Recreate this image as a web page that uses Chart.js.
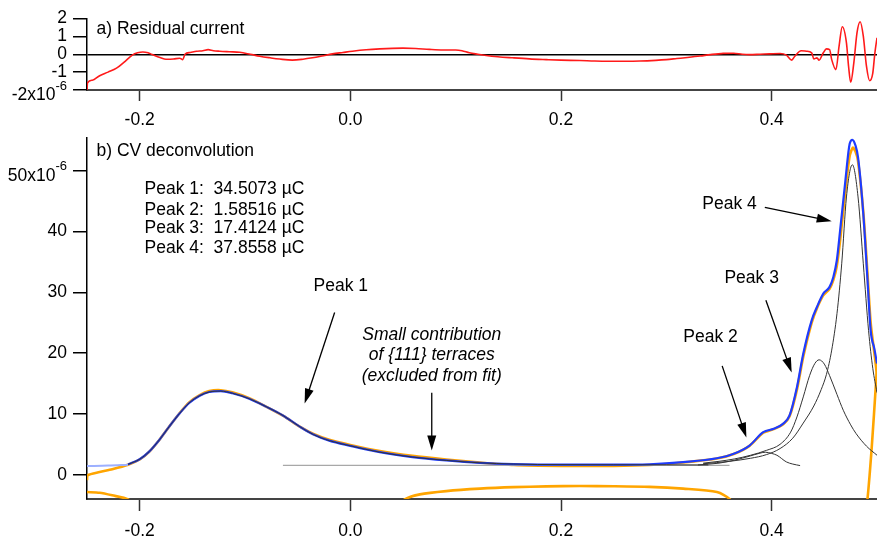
<!DOCTYPE html>
<html>
<head>
<meta charset="utf-8">
<script src="https://cdn.jsdelivr.net/npm/chart.js@4.4.1/dist/chart.umd.min.js"></script>
<style>
  html, body { margin: 0; padding: 0; background: #fff; }
  #wrap { position: relative; width: 877px; height: 536px; overflow: hidden; }
  canvas { position: absolute; left: 0; }
  #residual { top: 0; }
  #cv { top: 130px; }
</style>
</head>
<body>
<div id="wrap">
  <canvas id="residual" width="877" height="130"></canvas>
  <canvas id="cv" width="877" height="406"></canvas>
</div>
<script>
// tick values
const xTicks = [-0.2, 0.0, 0.2, 0.4];
const residualTicks = [-2, -1, 0, 1, 2];
const cvTicks = [0, 10, 20, 30, 40, 50];

// a) residual current (x10^-6)
const residualV = [-0.25, -0.2495, -0.245, -0.238, -0.23, -0.222, -0.215, -0.207, -0.202, -0.197, -0.192, -0.188, -0.18, -0.175, -0.168, -0.162, -0.159, -0.157, -0.152, -0.146, -0.14, -0.135, -0.13, -0.124, -0.115, -0.105, -0.095, -0.086, -0.076, -0.067, -0.055, -0.045, -0.036, -0.027, -0.017, -0.007, 0.002, 0.015, 0.028, 0.04, 0.05, 0.062, 0.075, 0.088, 0.1, 0.106, 0.113, 0.121, 0.129, 0.14, 0.154, 0.17, 0.186, 0.2, 0.218, 0.232, 0.246, 0.26, 0.275, 0.29, 0.3, 0.31, 0.32, 0.332, 0.342, 0.354, 0.364, 0.372, 0.379, 0.389, 0.398, 0.408, 0.414, 0.419, 0.422, 0.428, 0.433, 0.438, 0.44, 0.443, 0.445, 0.449, 0.452, 0.455, 0.457, 0.461, 0.464, 0.467, 0.471, 0.473, 0.475, 0.478, 0.481, 0.484, 0.487, 0.49, 0.493, 0.496, 0.498, 0.5];
const residualI = [-2.0, -1.6, -1.45, -1.2, -1.0, -0.78, -0.45, -0.05, 0.08, 0.13, 0.08, -0.02, -0.2, -0.28, -0.27, -0.22, -0.3, 0.0, 0.1, 0.17, 0.2, 0.26, 0.2, 0.17, 0.14, 0.11, 0.0, -0.11, -0.2, -0.27, -0.33, -0.28, -0.2, -0.1, 0.02, 0.1, 0.17, 0.25, 0.3, 0.33, 0.34, 0.32, 0.27, 0.24, 0.24, 0.2, 0.08, 0.0, -0.07, -0.14, -0.2, -0.26, -0.3, -0.33, -0.35, -0.38, -0.39, -0.39, -0.38, -0.34, -0.3, -0.24, -0.18, -0.1, -0.02, 0.05, 0.06, 0.0, -0.02, 0.0, 0.02, 0.04, -0.05, -0.33, -0.11, 0.2, 0.17, 0.08, -0.26, -0.2, -0.33, 0.08, 0.3, 0.26, -0.3, -0.86, 0.45, 1.54, 0.64, -0.67, -1.57, -0.48, 1.2, 1.82, 1.01, -0.67, -1.48, -1.05, 0.08, 0.92];

// b) measured CV, anodic then cathodic branch (x10^-6), null = off-scale gap
const cvV = [-0.25, -0.2495, -0.238, -0.226, -0.211, -0.2, -0.191, -0.181, -0.172, -0.162, -0.153, -0.143, -0.134, -0.123, -0.112, -0.096, -0.08, -0.064, -0.048, -0.035, -0.02, 0.0, 0.028, 0.059, 0.091, 0.123, 0.155, 0.2, 0.25, 0.284, 0.316, 0.348, 0.364, 0.379, 0.392, 0.402, 0.411, 0.417, 0.424, 0.43, 0.438, 0.443, 0.449, 0.455, 0.4585, 0.4618, 0.465, 0.47, 0.474, 0.477, 0.4795, 0.482, 0.487, 0.491, 0.494, 0.4975, 0.4995,
  0.4992, 0.495, 0.491, 0.489, 0.42, 0.363, 0.3604, 0.348, 0.316, 0.284, 0.25, 0.218, 0.186, 0.155, 0.123, 0.091, 0.066, 0.0516, 0.048, 0.0, -0.207, -0.211, -0.226, -0.238, -0.25];
const cvI = [-0.9, -0.1, 0.43, 0.9, 1.64, 2.5, 3.75, 5.8, 7.9, 10.15, 11.9, 13.1, 13.75, 13.9, 13.55, 12.6, 11.2, 9.7, 7.9, 6.7, 5.75, 4.9, 3.9, 3.1, 2.5, 2.0, 1.6, 1.45, 1.45, 1.6, 2.0, 2.65, 3.4, 4.75, 6.9, 7.5, 8.3, 9.6, 14.0, 19.4, 25.0, 27.4, 29.5, 30.6, 32.0, 34.3, 38.6, 46.8, 52.4, 53.8, 53.2, 51.6, 43.2, 33.0, 25.0, 20.0, 17.0,
  15.5, 4.5, -3.95, -6, null, -6, -4.06, -2.86, -2.3, -2.0, -1.9, -1.87, -1.92, -2.05, -2.3, -2.7, -3.24, -4.06, -5, null, -5, -4.06, -3.4, -2.97, -2.86];

// fitted sum
const fitV = [-0.211, -0.2, -0.191, -0.181, -0.172, -0.162, -0.153, -0.143, -0.134, -0.123, -0.112, -0.096, -0.08, -0.064, -0.048, -0.035, -0.02, 0.0, 0.028, 0.059, 0.091, 0.123, 0.155, 0.2, 0.25, 0.284, 0.316, 0.348, 0.364, 0.379, 0.392, 0.402, 0.411, 0.417, 0.424, 0.43, 0.438, 0.443, 0.449, 0.455, 0.4585, 0.4618, 0.465, 0.47, 0.474, 0.4766, 0.4795, 0.482, 0.487, 0.491, 0.494, 0.4975, 0.5];
const fitI = [1.7, 2.55, 3.8, 5.8, 7.9, 10.1, 11.8, 13.0, 13.6, 13.75, 13.4, 12.5, 11.2, 9.75, 7.9, 6.6, 5.6, 4.75, 3.7, 2.9, 2.35, 1.95, 1.75, 1.65, 1.65, 1.72, 2.07, 2.7, 3.45, 4.8, 7.0, 7.55, 8.4, 9.75, 14.4, 19.9, 25.4, 27.6, 29.8, 30.9, 32.5, 35.2, 40.2, 48.4, 54.4, 55.1, 54.2, 52.2, 42.9, 32.0, 23.7, 20.7, 18.3];

// baseline left of the fit window
const baseV = [-0.25, -0.23, -0.211];
const baseI = [1.42, 1.5, 1.65];

// {111} terrace level
const terraceV = [-0.064, 0.36];
const terraceI = [1.52, 1.52];

// fitted components (incl. baseline)
const peak1V = [-0.211, -0.2, -0.191, -0.181, -0.172, -0.162, -0.153, -0.143, -0.134, -0.123, -0.112, -0.096, -0.08, -0.064, -0.048, -0.035, -0.02, 0.0, 0.028, 0.059, 0.091, 0.123, 0.155, 0.2, 0.25, 0.3, 0.34];
const peak1I = [1.7, 2.55, 3.8, 5.8, 7.9, 10.1, 11.8, 13.0, 13.6, 13.75, 13.4, 12.5, 11.2, 9.75, 7.9, 6.6, 5.6, 4.75, 3.7, 2.9, 2.35, 1.95, 1.75, 1.65, 1.63, 1.62, 1.6];
const peak2V = [0.33, 0.35, 0.365, 0.38, 0.388, 0.394, 0.4, 0.405, 0.414, 0.42, 0.427];
const peak2I = [1.6, 1.9, 2.4, 3.1, 3.5, 3.7, 3.5, 3.2, 2.1, 1.75, 1.5];
const peak3V = [0.335, 0.35, 0.365, 0.38, 0.395, 0.408, 0.418, 0.424, 0.43, 0.436, 0.441, 0.445, 0.45, 0.455, 0.462, 0.468, 0.475, 0.48, 0.49, 0.5];
const peak3I = [1.9, 2.2, 2.6, 3.2, 4.0, 5.0, 7.0, 9.5, 12.8, 16.3, 18.3, 18.9, 18.2, 16.3, 13.2, 10.6, 8.2, 6.8, 4.7, 3.2];
const peak4V = [0.335, 0.36, 0.38, 0.395, 0.408, 0.42, 0.43, 0.44, 0.447, 0.452, 0.457, 0.462, 0.4665, 0.471, 0.4766, 0.482, 0.487, 0.492, 0.496, 0.5];
const peak4I = [1.8, 2.2, 2.7, 3.3, 4.3, 6.0, 8.5, 11.3, 14.0, 16.5, 20.5, 26.5, 34.7, 45.7, 51.0, 45.7, 34.7, 23.7, 17.5, 13.5];

const FONT = '"Liberation Sans", Arial, sans-serif';
const FS = 17.5;
Chart.defaults.font.family = FONT;
Chart.defaults.font.size = FS;
Chart.defaults.color = '#000';

function pts(xs, ys) {
  return xs.map((x, i) => ({ x: x, y: ys[i] }));
}

function line(data, color, width, order, extra) {
  return Object.assign({
    data: data, borderColor: color, borderWidth: width, order: order,
    pointRadius: 0, fill: false, cubicInterpolationMode: 'monotone'
  }, extra || {});
}

function xScale(tickLen, height, pad) {
  return {
    type: 'linear', min: -0.25, max: 0.5,
    afterBuildTicks: s => { s.ticks = xTicks.map(v => ({ value: v })); },
    ticks: { callback: v => v.toFixed(1), padding: pad, maxRotation: 0, autoSkip: false },
    grid: { drawOnChartArea: false, drawTicks: true, tickLength: tickLen, tickColor: '#333', tickWidth: 1.5 },
    border: { display: true, color: '#444', width: 2 },
    afterFit: s => { s.height = height; }
  };
}

function yScale(min, max, ticks, zeroLine) {
  return {
    type: 'linear', min: min, max: max,
    afterBuildTicks: s => { s.ticks = ticks.map(v => ({ value: v })); },
    ticks: { display: false },
    grid: {
      drawOnChartArea: zeroLine, drawTicks: true, tickLength: 14, tickWidth: 1.5,
      tickColor: '#000', lineWidth: 1.5,
      color: c => (c.tick && c.tick.value === 0) ? '#000' : 'rgba(0,0,0,0)'
    },
    border: { display: true, color: '#000', width: 1.5 },
    afterFit: s => { s.width = 87; }
  };
}

// texts, arrows and y tick labels (with x10^-6 exponent)
function notes(texts, arrows, ticks, expTick) {
  return {
    id: 'notes',
    afterDatasetsDraw(chart) {
      const ctx = chart.ctx, xs = chart.scales.x, ys = chart.scales.y;
      ctx.save();
      ctx.fillStyle = '#000';
      ctx.strokeStyle = '#000';
      ctx.textBaseline = 'middle';
      texts.forEach(t => {
        ctx.font = (t.italic ? 'italic ' : '') + FS + 'px ' + FONT;
        ctx.textAlign = t.align || 'center';
        ctx.fillText(t.text, xs.getPixelForValue(t.x), ys.getPixelForValue(t.y));
      });
      arrows.forEach(a => {
        const x1 = xs.getPixelForValue(a[0]), y1 = ys.getPixelForValue(a[1]);
        const x2 = xs.getPixelForValue(a[2]), y2 = ys.getPixelForValue(a[3]);
        const ang = Math.atan2(y2 - y1, x2 - x1), L = 15, W = 4.5;
        const c = Math.cos(ang), s = Math.sin(ang);
        ctx.lineWidth = 1.3;
        ctx.beginPath();
        ctx.moveTo(x1, y1);
        ctx.lineTo(x2 - L * c * 0.6, y2 - L * s * 0.6);
        ctx.stroke();
        ctx.beginPath();
        ctx.moveTo(x2, y2);
        ctx.lineTo(x2 - L * c + W * s, y2 - L * s - W * c);
        ctx.lineTo(x2 - L * c - W * s, y2 - L * s + W * c);
        ctx.closePath();
        ctx.fill();
      });
      const right = chart.chartArea.left - 20;
      ticks.forEach(v => {
        const py = ys.getPixelForValue(v);
        ctx.textAlign = 'right';
        if (v === expTick) {
          ctx.font = '13px ' + FONT;
          const sup = '-6';
          const w = ctx.measureText(sup).width;
          ctx.fillText(sup, right, py - 4);
          ctx.font = FS + 'px ' + FONT;
          ctx.fillText(v + 'x10', right - w, py + 5);
        } else {
          ctx.font = FS + 'px ' + FONT;
          ctx.fillText(String(v), right, py);
        }
      });
      ctx.restore();
    }
  };
}

new Chart(document.getElementById('residual'), {
  type: 'line',
  data: {
    datasets: [
      line(pts(residualV, residualI), '#FF1A1A', 1.6, 0)
    ]
  },
  options: {
    responsive: false, animation: false, devicePixelRatio: 1,
    layout: { padding: { top: 18.5, right: 0, left: 0, bottom: 0 } },
    plugins: { legend: { display: false }, tooltip: { enabled: false } },
    scales: { x: xScale(11, 40, 9), y: yScale(-2, 2, residualTicks, true) }
  },
  plugins: [notes(
    [{ text: 'a) Residual current', x: -0.241, y: 1.38, align: 'left' }],
    [], residualTicks, -2)]
});

new Chart(document.getElementById('cv'), {
  type: 'line',
  data: {
    datasets: [
      line(pts(peak1V, peak1I), '#333', 1, 0),
      line(pts(peak2V, peak2I), '#333', 1, 0),
      line(pts(peak3V, peak3I), '#333', 1, 0),
      line(pts(peak4V, peak4I), '#333', 1, 0),
      line(pts(fitV, fitI), '#1E3CFF', 2.2, 1, { clip: { left: 0, right: 0, bottom: 0, top: 4 } }),
      line(pts(baseV, baseI), '#9DB0FF', 2, 2),
      line(pts(terraceV, terraceI), '#A8A8A8', 1.3, 3),
      line(pts(cvV, cvI), '#FFA500', 2.6, 4, { spanGaps: false, cubicInterpolationMode: 'default', tension: 0.25 })
    ]
  },
  options: {
    responsive: false, animation: false, devicePixelRatio: 1,
    layout: { padding: { top: 8, right: 0, left: 0, bottom: 0 } },
    plugins: { legend: { display: false }, tooltip: { enabled: false } },
    scales: { x: xScale(12, 37, 10), y: yScale(-4, 55.4, cvTicks, false) }
  },
  plugins: [notes(
    [
      { text: 'b) CV deconvolution', x: -0.241, y: 53.3, align: 'left' },
      { text: 'Peak 1:  34.5073 \u00b5C', x: -0.1954, y: 46.9, align: 'left' },
      { text: 'Peak 2:  1.58516 \u00b5C', x: -0.1954, y: 43.6, align: 'left' },
      { text: 'Peak 3:  17.4124 \u00b5C', x: -0.1954, y: 40.5, align: 'left' },
      { text: 'Peak 4:  37.8558 \u00b5C', x: -0.1954, y: 37.2, align: 'left' },
      { text: 'Peak 1', x: -0.009, y: 31.0 },
      { text: 'Small contribution', x: 0.0773, y: 22.9, italic: true },
      { text: 'of {111} terraces', x: 0.0773, y: 19.6, italic: true },
      { text: '(excluded from fit)', x: 0.0773, y: 16.3, italic: true },
      { text: 'Peak 2', x: 0.342, y: 22.6 },
      { text: 'Peak 3', x: 0.381, y: 32.4 },
      { text: 'Peak 4', x: 0.36, y: 44.5 }
    ],
    [
      [-0.0149, 26.7, -0.0434, 11.7],
      [0.0773, 13.5, 0.0773, 4.0],
      [0.353, 17.9, 0.376, 6.1],
      [0.3945, 28.7, 0.419, 16.8],
      [0.3935, 44.0, 0.457, 41.7]
    ],
    cvTicks, 50)]
});
</script>
</body>
</html>
